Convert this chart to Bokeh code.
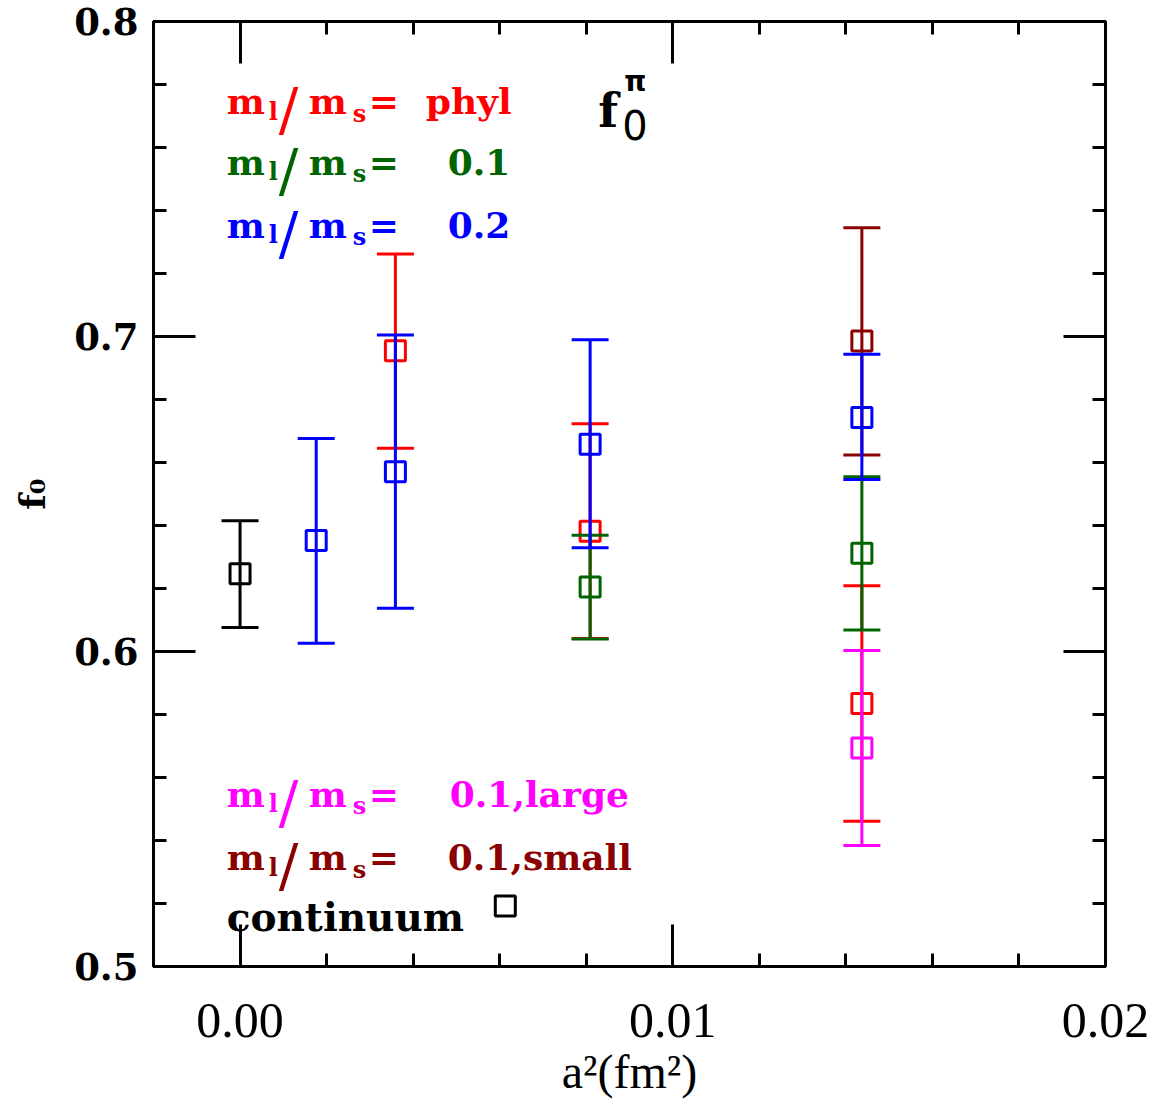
from bokeh.plotting import figure
from bokeh.models import FixedTicker, LinearAxis, Range1d, CustomJSTickFormatter
from bokeh.embed import file_html
from bokeh.resources import INLINE
from bokeh.core.properties import value

# ---------------- data ----------------
# continuum
x_cont = [0.0]
y_cont = [0.6247]
lo_cont = [0.6076]
hi_cont = [0.6415]
# m_l/m_s = phyl (red)
x_phys = [0.00359, 0.00809, 0.01437]
y_phys = [0.6955, 0.6382, 0.5835]
lo_phys = [0.6645, 0.6041, 0.5461]
hi_phys = [0.7262, 0.6723, 0.6209]
# m_l/m_s = 0.1 (green)
x_01 = [0.00809, 0.01437]
y_01 = [0.6205, 0.6312]
lo_01 = [0.6040, 0.6068]
hi_01 = [0.6369, 0.6555]
# m_l/m_s = 0.2 (blue)
x_02 = [0.00176, 0.00359, 0.00809, 0.01437]
y_02 = [0.6352, 0.6571, 0.6658, 0.6743]
lo_02 = [0.6026, 0.6137, 0.6329, 0.6546]
hi_02 = [0.6676, 0.7005, 0.6990, 0.6944]
# m_l/m_s = 0.1, large (magenta)
x_large = [0.01437]
y_large = [0.5694]
lo_large = [0.5384]
hi_large = [0.6003]
# m_l/m_s = 0.1, small (dark red)
x_small = [0.01437]
y_small = [0.6986]
lo_small = [0.6624]
hi_small = [0.7345]

x_ticks = [0.0, 0.01, 0.02]
x_tick_labels = ["0.00", "0.01", "0.02"]
x_minor = [-0.002, 0.002, 0.004, 0.006, 0.008, 0.012, 0.014, 0.016, 0.018]
y_ticks = [0.5, 0.6, 0.7, 0.8]
y_tick_labels = ["0.5", "0.6", "0.7", "0.8"]
y_minor = [0.52, 0.54, 0.56, 0.58, 0.62, 0.64, 0.66, 0.68, 0.72, 0.74, 0.76, 0.78]

legend_labels = ["phyl", "0.1", "0.2", "0.1,large", "0.1,small"]

RED = "#ff0000"
GREEN = "#006400"
BLUE = "#0000ff"
MAGENTA = "#ff00ff"
DARKRED = "#8b0000"
BLACK = "#000000"

SERIF = "DejaVu Serif"
SANS = "DejaVu Sans"

p = figure(width=1150, height=1100,
           x_range=Range1d(-0.002, 0.02), y_range=Range1d(0.5, 0.8),
           output_backend="svg", toolbar_location=None,
           min_border_left=153, min_border_right=45,
           min_border_top=21, min_border_bottom=132)
p.grid.visible = False
p.outline_line_color = "black"
p.outline_line_width = 3
p.background_fill_color = "white"
p.border_fill_color = "white"

xt = FixedTicker(ticks=x_ticks, minor_ticks=x_minor)
yt = FixedTicker(ticks=y_ticks, minor_ticks=y_minor)


def style_axis(ax):
    ax.axis_line_width = 3
    ax.axis_line_color = "black"
    ax.major_tick_in = 42
    ax.major_tick_out = 0
    ax.minor_tick_in = 13
    ax.minor_tick_out = 0
    ax.major_tick_line_width = 3
    ax.minor_tick_line_width = 3
    ax.major_tick_line_color = "black"
    ax.minor_tick_line_color = "black"


xa = p.xaxis[0]
xa.ticker = xt
style_axis(xa)
xa.major_label_overrides = {t: l for t, l in zip(x_ticks, x_tick_labels)}
xa.major_label_text_font = "Liberation Serif"
xa.major_label_text_font_size = "50px"
xa.major_label_text_color = "black"
xa.major_label_standoff = 37
xa.axis_label = "a²(fm²)"
xa.axis_label_text_font = "Liberation Serif"
xa.axis_label_text_font_style = "normal"
xa.axis_label_text_font_size = "48px"
xa.axis_label_text_color = "black"
xa.axis_label_standoff = 5

ya = p.yaxis[0]
ya.ticker = yt
style_axis(ya)
ya.major_label_overrides = {t: l for t, l in zip(y_ticks, y_tick_labels)}
ya.major_label_text_font = SERIF
ya.major_label_text_font_style = "bold"
ya.major_label_text_font_size = "37px"
ya.major_label_text_color = "black"
ya.major_label_standoff = 15
ya.axis_label = "f₀"
ya.axis_label_text_font = SERIF
ya.axis_label_text_font_style = "bold"
ya.axis_label_text_font_size = "36px"
ya.axis_label_text_color = "black"
ya.axis_label_standoff = 18

for side, tk in (("right", yt), ("above", xt)):
    ax = LinearAxis(ticker=tk)
    style_axis(ax)
    ax.major_label_text_font_size = "0px"
    ax.major_label_standoff = 0
    ax.formatter = CustomJSTickFormatter(code="return ''")
    p.add_layout(ax, side)


def series(xs, ys, lo, hi, color):
    p.segment(x0=xs, y0=lo, x1=xs, y1=hi, line_color=color, line_width=3)
    p.scatter(xs, lo, marker="dash", size=37, line_color=color, line_width=3)
    p.scatter(xs, hi, marker="dash", size=37, line_color=color, line_width=3)
    p.scatter(xs, ys, marker="square", size=20, fill_color=None,
              line_color=color, line_width=3)


series(x_cont, y_cont, lo_cont, hi_cont, BLACK)
series(x_phys, y_phys, lo_phys, hi_phys, RED)
series(x_small, y_small, lo_small, hi_small, DARKRED)
series(x_01, y_01, lo_01, hi_01, GREEN)
series(x_02, y_02, lo_02, hi_02, BLUE)
series(x_large, y_large, lo_large, hi_large, MAGENTA)

# ---------------- legend text ----------------
X0 = -0.000307
FS = "36px"
SUB = "24px"


def legend_row(yb, color, val, voff):
    p.text(x=[X0] * 3, y=[yb] * 3, text=["m", "m", "="],
           x_offset=[0, 82, 142], y_offset=[0, 0, 0],
           text_color=color, text_font=value(SERIF), text_font_style="bold",
           text_font_size=FS, text_baseline="alphabetic", text_align="left")
    p.text(x=[X0], y=[yb], text=["/"], x_offset=[52], y_offset=[9],
           text_color=color, text_font=value(SERIF), text_font_style="normal",
           text_font_size="58px", text_baseline="alphabetic", text_align="left")
    p.text(x=[X0] * 2, y=[yb] * 2, text=["l", "s"],
           x_offset=[42, 126], y_offset=[10, 12],
           text_color=color, text_font=value(SERIF), text_font_style="bold",
           text_font_size=SUB, text_baseline="alphabetic", text_align="left")
    p.text(x=[X0], y=[yb], text=[val], x_offset=[voff],
           text_color=color, text_font=value(SERIF), text_font_style="bold",
           text_font_size=FS, text_baseline="alphabetic", text_align="left")


legend_row(0.77476, RED, legend_labels[0], 199)
legend_row(0.75543, GREEN, legend_labels[1], 221)
legend_row(0.73543, BLUE, legend_labels[2], 221)
legend_row(0.55481, MAGENTA, legend_labels[3], 223)
legend_row(0.53462, DARKRED, legend_labels[4], 221)

p.text(x=[X0], y=[0.51569], text=["continuum"], text_color=BLACK,
       text_font=value(SERIF), text_font_style="bold", text_font_size="39px",
       text_baseline="alphabetic", text_align="left")
p.scatter([0.00613], [0.51924], marker="square", size=20, fill_color=None,
          line_color=BLACK, line_width=3)

# f_0^pi label
p.text(x=[0.00828], y=[0.7717], text=["f"], text_color=BLACK,
       text_font=value(SERIF), text_font_style="bold", text_font_size="46px",
       text_baseline="alphabetic", text_align="left")
p.text(x=[0.00828], y=[0.7717], text=["π"], x_offset=[26], y_offset=[-29],
       text_color=BLACK, text_font=value(SANS), text_font_style="bold",
       text_font_size="28px", text_baseline="alphabetic", text_align="left")
p.text(x=[0.00828], y=[0.7717], text=["0"], x_offset=[24], y_offset=[14],
       text_color=BLACK, text_font=value(SANS), text_font_style="normal",
       text_font_size="40px", text_baseline="alphabetic", text_align="left")

open("out.html", "w").write(file_html(p, INLINE))
